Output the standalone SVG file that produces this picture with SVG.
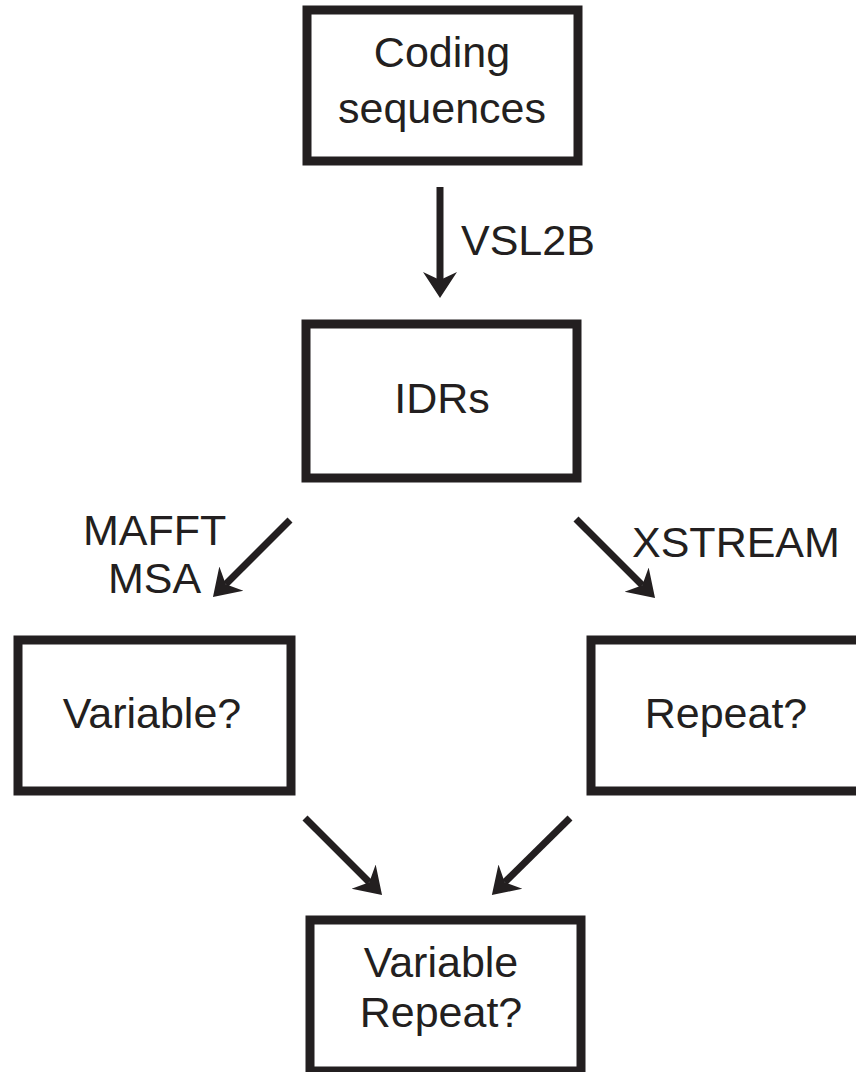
<svg xmlns="http://www.w3.org/2000/svg" width="856" height="1072" viewBox="0 0 856 1072">
<style>
.box{fill:#fff;stroke:#231f20;stroke-width:9}
.t{font-family:"Liberation Sans",Arial,sans-serif;font-size:43px;fill:#231f20}
.m{text-anchor:middle}
.c{stroke:#231f20;stroke-width:7;fill:none;marker-end:url(#ah)}
</style>
<defs>
<marker id="ah" markerUnits="userSpaceOnUse" markerWidth="30" markerHeight="36" viewBox="0 -18 30 36" refX="8" refY="0" orient="auto">
<path d="M0,-17 L26,0 L0,17 L8,0 Z" fill="#231f20"/>
</marker>
</defs>
<rect width="856" height="1072" fill="#fff"/>
<g id="connectors">
<line class="c" x1="440" y1="187" x2="440" y2="280"/>
<line class="c" x1="290" y1="520" x2="225.7" y2="584.3"/>
<line class="c" x1="576" y1="519" x2="642.3" y2="585.3"/>
<line class="c" x1="305" y1="818" x2="369.3" y2="882.3"/>
<line class="c" x1="570" y1="818" x2="504.7" y2="882.3"/>
<text class="t" x="461" y="255">VSL2B</text>
<text class="t" x="83" y="545">MAFFT</text>
<text class="t" x="108" y="593">MSA</text>
<text class="t" x="632" y="557">XSTREAM</text>
</g>
<g id="coding">
<rect class="box" x="307" y="10" width="271" height="151"/>
<text class="t m" x="442" y="67">Coding</text>
<text class="t m" x="442" y="123">sequences</text>
</g>
<g id="idrs">
<rect class="box" x="306" y="324" width="271" height="154"/>
<text class="t m" x="442" y="413">IDRs</text>
</g>
<g id="variable">
<rect class="box" x="18" y="640" width="273" height="151"/>
<text class="t m" x="152" y="728">Variable?</text>
</g>
<g id="repeat">
<rect class="box" x="591" y="640" width="273" height="151"/>
<text class="t m" x="726" y="728">Repeat?</text>
</g>
<g id="varrepeat">
<rect class="box" x="310" y="920" width="271" height="151"/>
<text class="t m" x="441" y="977">Variable</text>
<text class="t m" x="441" y="1027">Repeat?</text>
</g>
</svg>
